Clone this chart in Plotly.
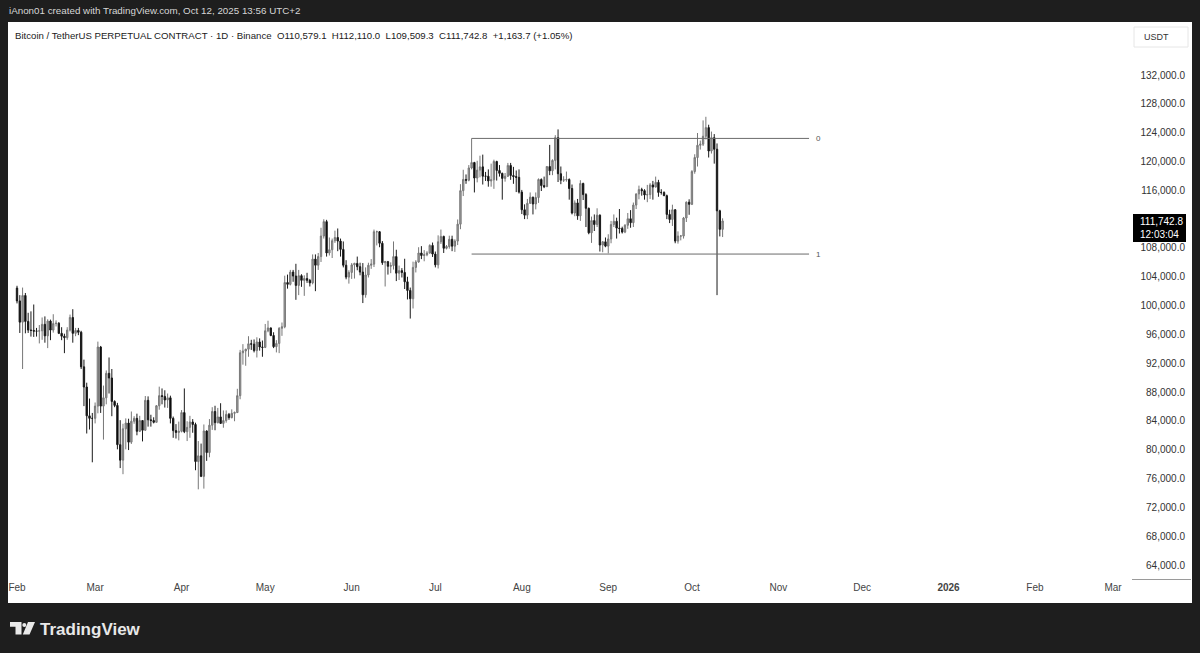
import plotly.graph_objects as go
import pandas as pd

W, H = 1200, 653
def px(x): return x / W
def py(y): return 1 - y / H

# ---------------- data (BTCUSDT perp, daily) ----------------
first_open = 102430
feb_close = [100650, 97700, 101400, 97800, 96600, 96550, 96450, 96450, 96500, 97400, 95800, 97850, 96600, 97500,
             97550, 96150, 95750, 95550, 96600, 98350, 96150, 96550, 96300, 91500, 88700, 84700, 84350, 84350]
feb_high = [102750, 101450, 102500, 101750, 99000, 99200, 100150, 96900, 97300, 98350, 98500, 98100, 98050, 98800,
            97950, 97700, 97000, 96100, 97000, 98750, 99500, 96900, 96900, 96500, 92500, 89300, 87100, 85100]
feb_low = [100300, 96200, 91200, 96150, 96200, 95700, 95650, 95700, 94750, 95250, 94850, 94100, 95200, 96250,
           97100, 96050, 95200, 93400, 95250, 96400, 94850, 95750, 95900, 91200, 86050, 82250, 82800, 78250]

mar_close = [86050, 94250, 86050, 87200, 90600, 89950, 86700, 86150, 80700, 78550, 82900, 83700, 81050, 83950, 84350,
             82550, 84050, 82700, 86850, 84150, 84050, 83800, 86100, 87500, 87400, 86900, 87200, 84350, 82650, 82400, 82550]
mar_high = [86550, 95000, 94400, 88900, 91000, 92800, 91200, 86850, 86500, 84100, 83600, 84350, 84300, 85300, 84650,
            85000, 84700, 84050, 87450, 87400, 84850, 84500, 86200, 88750, 88500, 88250, 87800, 87500, 84600, 83550, 83900]
mar_low = [83650, 85050, 85100, 81400, 86300, 87800, 84650, 85900, 80050, 77450, 76600, 80050, 79950, 80800, 83600,
           82000, 82450, 81150, 82650, 83200, 83200, 83650, 83800, 85550, 86300, 85850, 85800, 83650, 81650, 81550, 81300]

apr_close = [85150, 82500, 83100, 83850, 83500, 78350, 79150, 76300, 82600, 79600, 83400, 85300, 83750, 84550, 83650,
             84050, 84900, 84450, 85050, 85150, 87500, 93450, 93700, 93950, 94700, 94650, 93750, 94950, 94250, 94200]
apr_high = [85500, 88500, 83950, 84700, 84250, 83750, 81200, 80850, 83500, 82700, 84250, 85900, 86100, 85800, 86450,
            85450, 85450, 85100, 85600, 85300, 88450, 93850, 94650, 94000, 95750, 95250, 95300, 95600, 95450, 95150]
apr_low = [82400, 82300, 81200, 81650, 82350, 77150, 74500, 76200, 74600, 78450, 78950, 82750, 82700, 83650, 83600,
           83050, 83750, 84150, 84350, 83950, 85100, 87000, 91800, 91650, 92900, 93850, 93500, 92800, 93750, 92900]

may_close = [96500, 96900, 95850, 94300, 94750, 96850, 97050, 103200, 102950, 104650, 104100, 102800, 104150, 103500,
             103750, 103500, 103150, 106450, 105600, 106800, 109650, 111650, 107300, 107750, 109000, 109450, 108950,
             107800, 105600, 103950, 104600]
may_high = [97450, 97900, 96950, 96300, 95200, 97000, 97650, 104150, 104300, 104950, 104950, 105800, 104950, 104350,
            104200, 104550, 103700, 107100, 107100, 107300, 110800, 111980, 111900, 109450, 109300, 110400, 110700,
            109300, 108900, 106300, 104900]
may_low = [94100, 96300, 95750, 94100, 93500, 93400, 95800, 96850, 102350, 102800, 103300, 100800, 101450, 102600,
           101350, 103150, 102650, 102950, 102000, 104950, 106050, 109300, 106800, 106950, 106600, 108700, 107550,
           106800, 105300, 103650, 103050]

jun_close = [105650, 105850, 105400, 104650, 101500, 104250, 105600, 105750, 110250, 110250, 108650, 105950, 106100,
             105450, 105550, 106800, 104500, 104850, 104600, 103300, 102100, 100950, 105300, 106050, 107300, 106950,
             107050, 107300, 108350, 107150]
jun_high = [105900, 105950, 106800, 105950, 105900, 105300, 105950, 106450, 110550, 110400, 110350, 108950, 106200,
            106200, 106000, 108900, 107750, 105550, 105200, 106500, 104000, 102500, 106100, 106300, 108100, 108250,
            107700, 107550, 108500, 108750]
jun_low = [103700, 103750, 104900, 104200, 100350, 101100, 103900, 105100, 105350, 108350, 108100, 105650, 102650,
           104300, 104500, 105000, 103400, 103550, 103900, 102300, 100850, 98200, 99600, 104600, 105950, 106450,
           106150, 106850, 107200, 106750]

jul_close = [105650, 108850, 109600, 107950, 108200, 109200, 108250, 108950, 111300, 115950, 117500, 117400, 119100,
             119850, 117700, 118800, 119250, 117950, 117950, 117300, 117450, 120000, 118750, 118350, 117650, 117950,
             119450, 118050, 117900, 117800, 115750]
jul_high = [107500, 109750, 110550, 109700, 108400, 109700, 109700, 109200, 111950, 116850, 118850, 118200, 119500,
            123200, 119950, 120100, 120800, 120950, 118550, 118900, 119700, 120250, 120100, 119500, 118450, 118400,
            119800, 119800, 119250, 118750, 118900]
jul_low = [105300, 105150, 108550, 107300, 107800, 107900, 107550, 107450, 108400, 110600, 115200, 116900, 117250,
           118900, 115700, 117100, 117800, 116800, 117300, 116500, 116500, 116200, 117350, 117900, 114700, 117200,
           117850, 117450, 116900, 115750, 115550]

aug_close = [113300, 112550, 114200, 115050, 114100, 115000, 117500, 116650, 116500, 119300, 118700, 120150, 123300,
             118300, 117400, 117450, 117500, 116250, 112850, 114250, 112450, 116950, 115400, 113500, 110100, 111800,
             111250, 112550, 108400, 108850, 108250]
aug_high = [116050, 114050, 114800, 115700, 115100, 115700, 117650, 117650, 117900, 119300, 122300, 120300, 123650,
            124450, 119300, 117950, 118600, 117650, 116800, 114600, 114800, 117400, 117050, 115600, 113600, 112350,
            112650, 113500, 112650, 108950, 109450]
aug_low = [112700, 112000, 112000, 114100, 112650, 113350, 114250, 115900, 116300, 116500, 118100, 118100, 118900,
           117150, 116850, 117150, 117200, 114700, 112650, 112400, 111900, 111750, 114650, 110900, 109900, 108700,
           110350, 110900, 107500, 107400, 108100]

sep_close = [109250, 111250, 111700, 110750, 110700, 110200, 111150, 112050, 111500, 113950, 115500, 116100, 115950,
             115350, 115400, 116750, 116450, 117100, 115700, 115700, 115250, 112650, 111950, 113300, 108950, 109650,
             109650, 112150, 114350, 114050]
sep_high = [109900, 111750, 112650, 112200, 113400, 110950, 111300, 112850, 113250, 114300, 115550, 116650, 116350,
            116150, 116750, 117000, 117300, 117900, 117450, 116150, 115850, 115400, 113300, 114000, 113400, 110300,
            109800, 112300, 114450, 114750]
sep_low = [107250, 108650, 110900, 109300, 110000, 110000, 110050, 110650, 110800, 110900, 113400, 114750, 115250,
           114700, 114350, 114800, 114700, 116400, 115100, 115400, 115200, 112000, 111450, 111050, 108650, 108600,
           109050, 109300, 111600, 112600]

oct_close = [118600, 120550, 122250, 122400, 123500, 124700, 121450, 123300, 121700, 113150, 110579.1, 111742.8]
oct_high = [118800, 121000, 123950, 122900, 125700, 126200, 125100, 124150, 123800, 122500, 113300, 112110.0]
oct_low = [113950, 118300, 119300, 121650, 122150, 123050, 120550, 121100, 119700, 101450, 109600, 109509.3]

# fib retracement drawing (levels 0 and 1)
fib_levels = [123200, 107150]
fib_labels = ["0", "1"]
fib_start = "2025-07-14"
fib_end = "2025-11-12"

month_ticks = ["2025-02-01", "2025-03-01", "2025-04-01", "2025-05-01", "2025-06-01", "2025-07-01", "2025-08-01",
               "2025-09-01", "2025-10-01", "2025-11-01", "2025-12-01", "2026-01-01", "2026-02-01", "2026-03-01"]
month_text = ["Feb", "Mar", "Apr", "May", "Jun", "Jul", "Aug", "Sep", "Oct", "Nov", "Dec", "<b>2026</b>", "Feb", "Mar"]
# price scale labels shown (112,000 is hidden under the last-price label)
price_ticks = [64000, 68000, 72000, 76000, 80000, 84000, 88000, 92000, 96000, 100000, 104000, 108000,
               116000, 120000, 124000, 128000, 132000]
last_price_text = "111,742.8"
countdown_text = "12:03:04"

# ---------------- assemble ----------------
closes = feb_close + mar_close + apr_close + may_close + jun_close + jul_close + aug_close + sep_close + oct_close
highs = feb_high + mar_high + apr_high + may_high + jun_high + jul_high + aug_high + sep_high + oct_high
lows = feb_low + mar_low + apr_low + may_low + jun_low + jul_low + aug_low + sep_low + oct_low
opens = [first_open] + closes[:-1]
dates = pd.date_range("2025-02-01", periods=len(closes), freq="D")

FONT = "Liberation Sans, Arial, sans-serif"

fig = go.Figure()
fig.add_trace(go.Candlestick(
    x=dates, open=opens, high=highs, low=lows, close=closes,
    increasing=dict(fillcolor="#a0a0a0", line=dict(color="#777777", width=1)),
    decreasing=dict(fillcolor="#000000", line=dict(color="#1a1a1a", width=1)),
    whiskerwidth=0, showlegend=False, hoverinfo="skip",
))

# fib lines
for lvl, lab in zip(fib_levels, fib_labels):
    fig.add_trace(go.Scatter(x=[fib_start, fib_end], y=[lvl, lvl], mode="lines",
                             line=dict(color="#6b6b6b", width=1), showlegend=False, hoverinfo="skip"))
    fig.add_annotation(x=fib_end, y=lvl, text=lab, showarrow=False, xanchor="left", yanchor="middle",
                       xshift=5, font=dict(family=FONT, size=8, color="#555"))

t0 = pd.Timestamp("2025-02-01")
x_range = [t0 - pd.Timedelta(days=3.23), t0 + pd.Timedelta(days=398)]

fig.update_layout(
    width=W, height=H,
    margin=dict(l=0, r=0, t=0, b=0),
    paper_bgcolor="#1e1e1e",
    plot_bgcolor="#ffffff",
    xaxis=dict(domain=[px(8), px(1127)], range=x_range, rangeslider=dict(visible=False),
               showgrid=False, zeroline=False, showline=False, ticks="",
               tickvals=month_ticks, ticktext=month_text,
               tickfont=dict(family=FONT, size=10, color="#444")),
    yaxis=dict(domain=[py(580), py(22)], range=[61918, 139355], side="right",
               anchor="free", position=px(1188), ticklabelposition="inside",
               showgrid=False, zeroline=False, showline=False, ticks="",
               tickvals=price_ticks, tickformat=",.1f",
               tickfont=dict(family=FONT, size=10, color="#333")),
    font=dict(family=FONT),
)

shapes = [
    # white chart panel
    dict(type="rect", xref="paper", yref="paper", x0=px(8), x1=px(1192), y0=py(603), y1=py(22),
         fillcolor="#ffffff", line=dict(width=0), layer="below"),
    # time axis border in price scale
    dict(type="line", xref="paper", yref="paper", x0=px(1132), x1=px(1191), y0=py(579.5), y1=py(579.5),
         line=dict(color="#9a9a9a", width=1)),
    # USDT box
    dict(type="rect", xref="paper", yref="paper", x0=px(1134), x1=px(1188), y0=py(47), y1=py(27),
         fillcolor="#ffffff", line=dict(color="#e6e6e6", width=1)),
    # last price label
    dict(type="rect", xref="paper", yref="paper", x0=px(1133), x1=px(1186), y0=py(242), y1=py(214),
         fillcolor="#000000", line=dict(width=0)),
    # TradingView logo
    dict(type="path", xref="paper", yref="paper",
         path=f"M {px(10)} {py(622)} L {px(21.5)} {py(622)} L {px(21.5)} {py(634.5)} L {px(15.5)} {py(634.5)} "
              f"L {px(15.5)} {py(626.8)} L {px(10)} {py(626.8)} Z",
         fillcolor="#e8e8e8", line=dict(width=0)),
    dict(type="circle", xref="paper", yref="paper", x0=px(22.3), x1=px(26.3), y0=py(627), y1=py(623),
         fillcolor="#e8e8e8", line=dict(width=0)),
    dict(type="path", xref="paper", yref="paper",
         path=f"M {px(28)} {py(622)} L {px(35)} {py(622)} L {px(29.5)} {py(634.5)} L {px(22.8)} {py(634.5)} Z",
         fillcolor="#e8e8e8", line=dict(width=0)),
]
fig.update_layout(shapes=shapes)

anns = [
    dict(text="iAnon01 created with TradingView.com, Oct 12, 2025 13:56 UTC+2", x=px(8), y=py(11),
         font=dict(family=FONT, size=9.8, color="#d6d6d6")),
    dict(text="Bitcoin / TetherUS PERPETUAL CONTRACT · 1D · Binance  O110,579.1  H112,110.0  L109,509.3  C111,742.8  +1,163.7 (+1.05%)",
         x=px(14), y=py(35), font=dict(family=FONT, size=9.65, color="#1a1a1a")),
    dict(text="USDT", x=px(1143), y=py(37), font=dict(family=FONT, size=9, color="#333")),
    dict(text=last_price_text, x=px(1139), y=py(221.5), font=dict(family=FONT, size=10, color="#ffffff")),
    dict(text=countdown_text, x=px(1139), y=py(234.5), font=dict(family=FONT, size=10, color="#ffffff")),
    dict(text="<b>TradingView</b>", x=px(39), y=py(629), font=dict(family=FONT, size=17, color="#e8e8e8")),
]
for a in anns:
    fig.add_annotation(xref="paper", yref="paper", showarrow=False, xanchor="left", yanchor="middle",
                       align="left", borderpad=0, **a)

fig.write_html("out.html", config={"displayModeBar": False},
               post_script="document.body.style.margin='0';document.body.style.overflow='hidden';")
